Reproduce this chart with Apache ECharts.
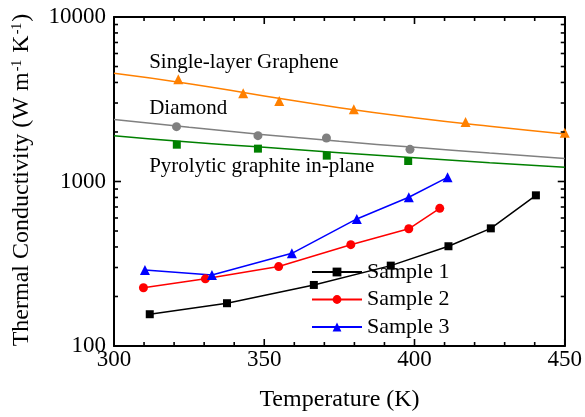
<!DOCTYPE html>
<html>
<head>
<meta charset="utf-8">
<script src="https://cdn.jsdelivr.net/npm/echarts@6/dist/echarts.min.js"></script>
<style>
html,body{margin:0;padding:0;background:#fff;}
#chart{width:585px;height:417px;}
</style>
</head>
<body>
<div id="chart"></div>
<script>
// ---- data ----
var xMajorTicks = [300, 350, 400, 450];
var xMinorTicks = [310, 320, 330, 340, 360, 370, 380, 390, 410, 420, 430, 440];
var yMajorTicks = [100, 1000, 10000];
var yMinorTicks = [200, 300, 400, 500, 600, 700, 800, 900, 2000, 3000, 4000, 5000, 6000, 7000, 8000, 9000];

var sample1X = [311.9, 337.6, 366.5, 392.1, 411.3, 425.4, 440.4];
var sample1Y = [156, 182, 235, 308, 404, 519, 824];
var sample2X = [309.8, 330.4, 354.8, 378.8, 398.1, 408.4];
var sample2Y = [226, 256, 304, 413, 516, 687];
var sample3X = [310.3, 332.6, 359.2, 380.8, 398.1, 411.0];
var sample3Y = [290, 270, 366, 592, 802, 1060];

var grapheneX = [321.4, 343.0, 355.0, 379.8, 417.0, 450.0];
var grapheneY = [4180, 3437, 3085, 2747, 2300, 1980];
var diamondX = [320.8, 347.9, 370.7, 398.5];
var diamondY = [2155, 1900, 1838, 1569];
var pyroX = [320.9, 347.9, 370.8, 397.9];
var pyroY = [1674, 1584, 1436, 1332];

var fitX = [300, 325, 350, 375, 400, 425, 450];
var grapheneFitY = [4545, 3933, 3310, 2811, 2443, 2165, 1945];
var diamondFitY = [2385, 2134, 1927, 1754, 1613, 1490, 1382];
var pyroFitY = [1900, 1738, 1613, 1497, 1395, 1301, 1219];

var annotationTexts = ['Single-layer Graphene', 'Diamond', 'Pyrolytic graphite in-plane'];
var annotationX = [311.7, 311.7, 311.7];
var annotationY = [5324, 2771, 1230];

var legendNames = ['Sample 1', 'Sample 2', 'Sample 3'];
var xTitle = 'Temperature (K)';
var yTitle = 'Thermal Conductivity (W m{sup|-1} K{sup|-1})';

// ---- build ----
function zip(xs, ys) { return xs.map(function (x, i) { return [x, ys[i]]; }); }
var FONT = 'Liberation Serif';
var xMin = 300, xMax = 450, yMin = 100, yMax = 10000;
var chart = echarts.init(document.getElementById('chart'));
var axisLineStyle = {color: '#000', width: 2};

function pointsSeries(name, xs, ys, symbol, size, color) {
  return {type: 'line', name: name, data: zip(xs, ys), symbol: symbol, symbolSize: size,
    lineStyle: {opacity: 0, width: 0}, itemStyle: {color: color}, z: 3};
}
function fitSeries(name, ys, color) {
  return {type: 'line', name: name, data: zip(fitX, ys), showSymbol: false, smooth: true,
    lineStyle: {color: color, width: 1.5}, itemStyle: {color: color}, z: 2};
}
function plainAxis(pos, extra) {
  var a = {position: pos, axisLine: {show: true, onZero: false, lineStyle: axisLineStyle},
    axisTick: {show: false}, minorTick: {show: false}, splitLine: {show: false}, axisLabel: {show: false}};
  for (var k in extra) a[k] = extra[k];
  return a;
}

chart.setOption({
  animation: false,
  textStyle: {fontFamily: FONT, color: '#000'},
  grid: {left: 114, right: 20, top: 17, bottom: 71},
  legend: {
    data: legendNames, left: 311, top: 261, orient: 'vertical', padding: 0,
    itemWidth: 50, itemHeight: 11, itemGap: 5.5,
    textStyle: {fontFamily: FONT, fontSize: 22, color: '#000', lineHeight: 22}
  },
  xAxis: [
    plainAxis('bottom', {type: 'value', min: xMin, max: xMax, interval: 50,
      axisLabel: {show: true, fontFamily: FONT, fontSize: 23, color: '#000', margin: 2}}),
    plainAxis('top', {type: 'value', min: xMin, max: xMax, interval: 50})
  ],
  yAxis: [
    plainAxis('left', {type: 'log', logBase: 10, min: yMin, max: yMax,
      axisLabel: {show: true, fontFamily: FONT, fontSize: 23, color: '#000', margin: 8,
        formatter: function (v) { return String(v); }}}),
    plainAxis('right', {type: 'log', logBase: 10, min: yMin, max: yMax})
  ],
  series: [
    fitSeries('grapheneFit', grapheneFitY, '#ff8000'),
    fitSeries('diamondFit', diamondFitY, '#808080'),
    fitSeries('pyroFit', pyroFitY, '#008000'),
    pointsSeries('graphenePts', grapheneX, grapheneY, 'triangle', 10, '#ff8000'),
    pointsSeries('diamondPts', diamondX, diamondY, 'circle', 9, '#808080'),
    pointsSeries('pyroPts', pyroX, pyroY, 'rect', 8, '#008000'),
    {type: 'line', name: 'Sample 1', data: zip(sample1X, sample1Y), symbol: 'rect', symbolSize: 8,
     lineStyle: {color: '#000', width: 1.5}, itemStyle: {color: '#000'}, z: 4},
    {type: 'line', name: 'Sample 2', data: zip(sample2X, sample2Y), symbol: 'circle', symbolSize: 9,
     lineStyle: {color: '#ff0000', width: 1.5}, itemStyle: {color: '#ff0000'}, z: 4},
    {type: 'line', name: 'Sample 3', data: zip(sample3X, sample3Y), symbol: 'triangle', symbolSize: 10,
     lineStyle: {color: '#0000ff', width: 1.5}, itemStyle: {color: '#0000ff'}, z: 4}
  ]
});

// ticks (as thin filled bars), annotations and titles placed through the chart's own scales
function px(x, y) { return chart.convertToPixel({gridIndex: 0}, [x, y]); }
var extra = [];
var TW = 1.6;
function vTick(p, len, dir) { // vertical tick on a horizontal axis; dir -1 = up, +1 = down
  extra.push({type: 'rect', silent: true, z: 100,
    shape: {x: p[0] - TW / 2, y: dir < 0 ? p[1] - len : p[1], width: TW, height: len},
    style: {fill: '#000'}});
}
function hTick(p, len, dir) { // horizontal tick on a vertical axis; dir +1 = right, -1 = left
  extra.push({type: 'rect', silent: true, z: 100,
    shape: {x: dir > 0 ? p[0] : p[0] - len, y: p[1] - TW / 2, width: len, height: TW},
    style: {fill: '#000'}});
}
xMajorTicks.forEach(function (x) { vTick(px(x, yMin), 7, -1); vTick(px(x, yMax), 7, 1); });
xMinorTicks.forEach(function (x) { vTick(px(x, yMin), 4, -1); vTick(px(x, yMax), 4, 1); });
yMajorTicks.forEach(function (y) { hTick(px(xMin, y), 7, 1); hTick(px(xMax, y), 7, -1); });
yMinorTicks.forEach(function (y) { hTick(px(xMin, y), 4, 1); hTick(px(xMax, y), 4, -1); });

annotationTexts.forEach(function (t, i) {
  var p = px(annotationX[i], annotationY[i]);
  extra.push({type: 'text', silent: true, z: 100, x: p[0], y: p[1],
    style: {text: t, fontFamily: FONT, fontSize: 21, fill: '#000', align: 'left', verticalAlign: 'middle'}});
});
extra.push({type: 'text', x: 339.5, y: 400, silent: true,
  style: {text: xTitle, fontFamily: FONT, fontSize: 24, fill: '#000', align: 'center', verticalAlign: 'middle'}});
extra.push({type: 'text', x: 22, y: 180, rotation: Math.PI / 2, silent: true,
  style: {text: yTitle, fontFamily: FONT, fontSize: 24, fill: '#000', align: 'center', verticalAlign: 'middle',
    rich: {sup: {fontFamily: FONT, fontSize: 14, fill: '#000', verticalAlign: 'top', padding: [0, 1, 10, 1]}}}});
chart.setOption({graphic: extra});
</script>
</body>
</html>
